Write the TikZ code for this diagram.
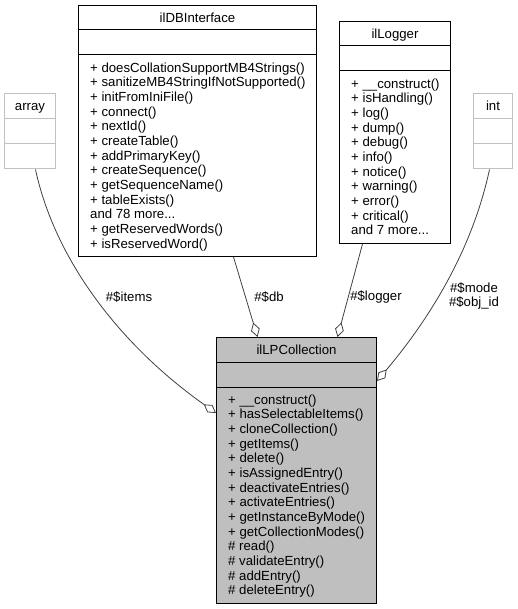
\documentclass[tikz,border=0pt]{standalone}
\usepackage{fontspec}
\setmainfont{Liberation Sans}
\usetikzlibrary{arrows.meta}
\definecolor{edgegray}{HTML}{404040}
\definecolor{boxgray}{HTML}{BFBFBF}
\definecolor{lightborder}{HTML}{C0C0C0}
\newcommand{\mytdots}{...}
\begin{document}
\begin{tikzpicture}[x=1pt,y=-1pt,
  font=\fontsize{13.2}{14.67}\selectfont,
  classbox/.style={draw=black, line width=1pt, inner sep=0pt, anchor=north west},
  ghostbox/.style={draw=lightborder, line width=1pt, inner sep=0pt, anchor=north west},
  sepline/.style={draw=black, line width=1pt},
  ghostsep/.style={draw=lightborder, line width=1pt},
  member/.style={anchor=base west, inner sep=0pt},
  titletext/.style={anchor=base, inner sep=0pt},
  agg/.style={draw=edgegray, line width=0.8pt, -{Diamond[open,length=15pt,width=9pt]}},
  elabel/.style={inner sep=0pt, align=center}
]
\useasboundingbox (0,0) rectangle (518,609);

% ---- ilDBInterface
\node[classbox, minimum width=238pt, minimum height=251pt] (db) at (78,5) {};
\draw[sepline] ([yshift=-25pt]db.north west) -- ([yshift=-25pt]db.north east);
\draw[sepline] ([yshift=-50pt]db.north west) -- ([yshift=-50pt]db.north east);
\node[titletext] (dbt) at ([yshift=-17.2pt]db.north) {ilDBInterface};
\foreach \t [count=\i from 0] in {+ doesCollationSupportMB4Strings(), + sanitizeMB4StringIfNotSupported(), + initFromIniFile(), + connect(), + nextId(), + createTable(), + addPrimaryKey(), + createSequence(), + getSequenceName(), + tableExists(), and 78 more\mytdots, + getReservedWords(), + isReservedWord()}
  \node[member] (dbm\i) at ([xshift=12pt,yshift={-(67.2+14.67*\i)*1pt}]db.north west) {\t};

% ---- ilLogger
\node[classbox, minimum width=111pt, minimum height=222pt] (lg) at (339,21) {};
\draw[sepline] ([yshift=-25pt]lg.north west) -- ([yshift=-25pt]lg.north east);
\draw[sepline] ([yshift=-50pt]lg.north west) -- ([yshift=-50pt]lg.north east);
\node[titletext] (lgt) at ([yshift=-17.2pt]lg.north) {ilLogger};
\foreach \t [count=\i from 0] in {+ \_\_construct(), + isHandling(), + log(), + dump(), + debug(), + info(), + notice(), + warning(), + error(), + critical(), and 7 more\mytdots}
  \node[member] (lgm\i) at ([xshift=12pt,yshift={-(67.2+14.67*\i)*1pt}]lg.north west) {\t};

% ---- array
\node[ghostbox, minimum width=51pt, minimum height=75pt] (arr) at (4,93.5) {};
\draw[ghostsep] ([yshift=-25pt]arr.north west) -- ([yshift=-25pt]arr.north east);
\draw[ghostsep] ([yshift=-50pt]arr.north west) -- ([yshift=-50pt]arr.north east);
\node[titletext] (arrt) at ([yshift=-17.2pt]arr.north) {array};

% ---- int
\node[ghostbox, minimum width=39pt, minimum height=75pt] (int) at (473,93.5) {};
\draw[ghostsep] ([yshift=-25pt]int.north west) -- ([yshift=-25pt]int.north east);
\draw[ghostsep] ([yshift=-50pt]int.north west) -- ([yshift=-50pt]int.north east);
\node[titletext] (intt) at ([yshift=-17.2pt]int.north) {int};

% ---- ilLPCollection
\node[classbox, fill=boxgray, minimum width=160pt, minimum height=266pt] (lp) at (216,337) {};
\draw[sepline] ([yshift=-25pt]lp.north west) -- ([yshift=-25pt]lp.north east);
\draw[sepline] ([yshift=-50pt]lp.north west) -- ([yshift=-50pt]lp.north east);
\node[titletext] (lpt) at ([yshift=-17.2pt]lp.north) {ilLPCollection};
\foreach \t [count=\i from 0] in {+ \_\_construct(), + hasSelectableItems(), + cloneCollection(), + getItems(), + delete(), + isAssignedEntry(), + deactivateEntries(), + activateEntries(), + getInstanceByMode(), + getCollectionModes(), \# read(), \# validateEntry(), \# addEntry(), \# deleteEntry()}
  \node[member] (lpm\i) at ([xshift=12pt,yshift={-(67.2+14.67*\i)*1pt}]lp.north west) {\t};

% ---- connectors
\draw[agg] ([xshift=5.5pt]arr.south) .. controls (55,260) and (120,345) .. ([yshift=-76pt]lp.north west);
\draw[agg] ([xshift=36pt]db.south) -- ([xshift=-39pt]lp.north);
\draw[agg] ([xshift=-32.5pt]lg.south) -- ([xshift=41pt]lp.north);
\draw[agg] ([xshift=-3.5pt]int.south) .. controls (470,260) and (420,330) .. ([yshift=-44pt]lp.north east);

% ---- labels
\node[elabel] (litems) at (129,297) {\#\$items};
\node[elabel] (ldb) at (269,297) {\#\$db};
\node[elabel] (llog) at (376,297) {\#\$logger};
\node[elabel] (lmode) at (474,296) {\#\$mode\\\#\$obj\_id};
\end{tikzpicture}
\end{document}
